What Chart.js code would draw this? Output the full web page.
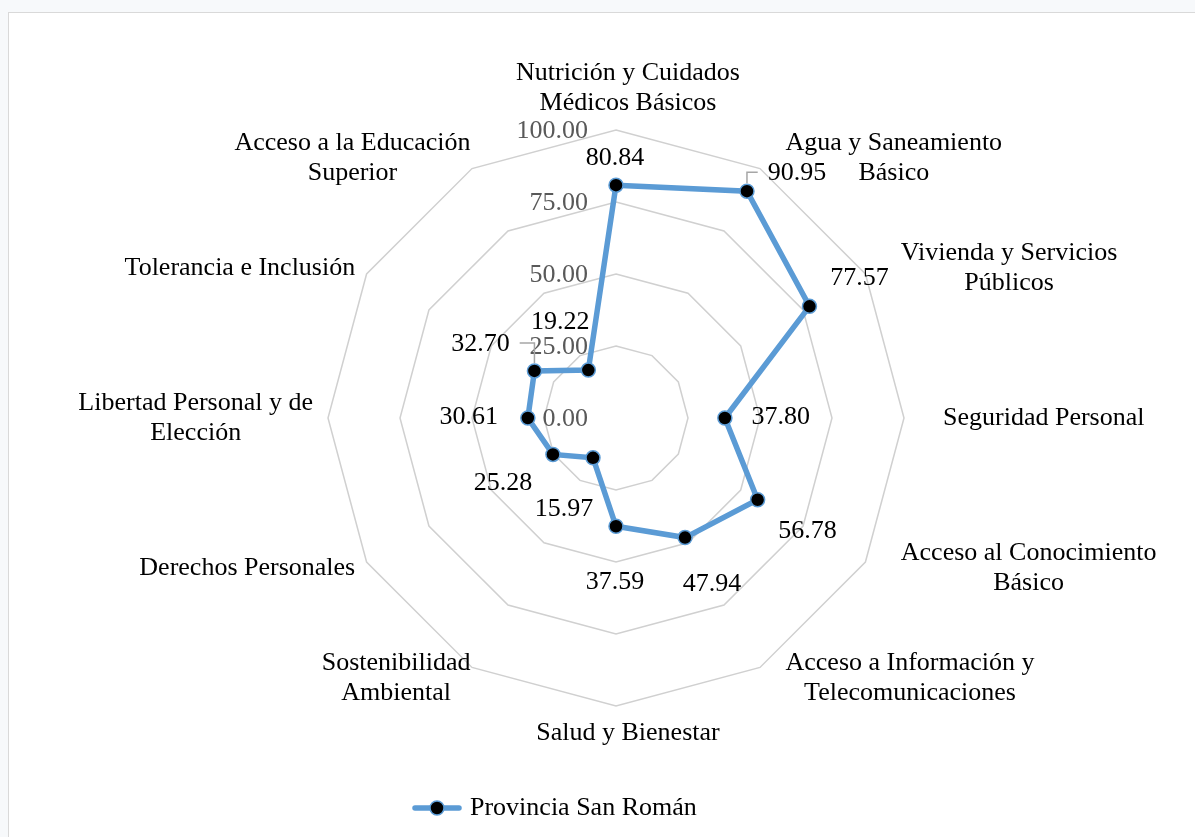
<!DOCTYPE html>
<html>
<head>
<meta charset="utf-8">
<script src="https://cdn.jsdelivr.net/npm/chart.js@4"></script>
<style>
  html, body { margin: 0; padding: 0; background: #f7f9fb; overflow: hidden; }
  #frame { position: absolute; left: 8px; top: 12px; width: 1300px; height: 900px; background: #fff; border-left: 1px solid #d9d9d9; border-top: 1px solid #d9d9d9; }
  #radarChart { position: absolute; left: 0; top: 0; }
</style>
</head>
<body>
<div id="frame"></div>
<canvas id="radarChart" width="1195" height="837"></canvas>
<script>
// categorías (cada una en líneas, como en el gráfico original)
const categories = [
    ['Nutrición y Cuidados', 'Médicos Básicos'],
    ['Agua y Saneamiento', 'Básico'],
    ['Vivienda y Servicios', 'Públicos'],
    ['Seguridad Personal'],
    ['Acceso al Conocimiento', 'Básico'],
    ['Acceso a Información y', 'Telecomunicaciones'],
    ['Salud y Bienestar'],
    ['Sostenibilidad', 'Ambiental'],
    ['Derechos Personales'],
    ['Libertad Personal y de', 'Elección'],
    ['Tolerancia e Inclusión'],
    ['Acceso a la Educación', 'Superior']
];
const seriesName = 'Provincia San Román';
const values = [80.84, 90.95, 77.57, 37.80, 56.78, 47.94, 37.59, 15.97, 25.28, 30.61, 32.70, 19.22];
const tickValues = [0, 25, 50, 75, 100];

// desplazamiento de las etiquetas de datos respecto al punto (px)
const valueLabelOffsets = [[-1, -27], [50, -18], [50, -28], [56, -1], [50, 31], [27, 47],
    [-1, 56], [-29, 51], [-50, 29], [-59, -1], [-54, -27], [-28, -48]];
const leaderLabels = [1, 10];

const FONT = '"Liberation Serif", "Times New Roman", serif';
const BLUE = '#5b9bd5';
Chart.defaults.font.family = FONT;

// icono de la leyenda: línea con marcador
function legendIcon() {
    const c = document.createElement('canvas');
    c.width = 50; c.height = 18;
    const g = c.getContext('2d');
    g.strokeStyle = BLUE; g.lineWidth = 5.5; g.lineCap = 'round';
    g.beginPath(); g.moveTo(3, 9); g.lineTo(47, 9); g.stroke();
    g.beginPath(); g.arc(25, 9, 7, 0, Math.PI * 2);
    g.fillStyle = '#000'; g.fill();
    g.lineWidth = 1.5; g.strokeStyle = BLUE; g.stroke();
    return c;
}

// etiquetas de ejes y valores de la escala
const labelPlugin = {
    id: 'radarLabels',
    beforeDatasetsDraw(chart) {
        const scale = chart.scales.r;
        const ctx = chart.ctx;
        ctx.save();
        ctx.font = '26px ' + FONT;
        ctx.fillStyle = '#595959';
        ctx.textAlign = 'right';
        ctx.textBaseline = 'middle';
        tickValues.forEach(v => {
            const d = scale.getDistanceFromCenterForValue(v);
            ctx.fillText(v.toFixed(2), scale.xCenter - 28, scale.yCenter - d + 1);
        });

        // nombres de categorías
        const R = scale.drawingArea;
        ctx.fillStyle = '#000';
        categories.forEach((lines, i) => {
            const p = scale.getPointPosition(i, R);
            const dx = p.x - scale.xCenter, dy = p.y - scale.yCenter;
            const ax = scale.xCenter + dx * (R + 27) / R + 12;
            const ay = scale.yCenter + dy * (R + 12) / R;
            const w = Math.max(...lines.map(t => ctx.measureText(t).width));
            const h = lines.length * 30;
            let left, top;
            if (Math.abs(dx) < 1) {
                left = ax - w / 2;
                top = dy < 0 ? ay - h : ay;
            } else {
                left = dx > 0 ? ax : ax - w;
                top = ay - h / 2;
            }
            ctx.textAlign = 'center';
            lines.forEach((t, k) => ctx.fillText(t, left + w / 2, top + 15 + k * 30));
        });
        ctx.restore();
    },
    afterDatasetsDraw(chart) {
        const meta = chart.getDatasetMeta(0);
        const ctx = chart.ctx;
        ctx.save();
        ctx.font = '26px ' + FONT;
        ctx.textAlign = 'center';
        ctx.textBaseline = 'middle';
        meta.data.forEach((pt, i) => {
            const [ox, oy] = valueLabelOffsets[i];
            const lx = pt.x + ox, ly = pt.y + oy;
            const txt = values[i].toFixed(2);
            ctx.fillStyle = '#000';
            ctx.fillText(txt, lx, ly);
            if (leaderLabels.includes(i)) {
                const half = ctx.measureText(txt).width / 2;
                const sx = ox > 0 ? lx - half - 10 : lx + half + 10;
                ctx.strokeStyle = '#a6a6a6';
                ctx.lineWidth = 1.5;
                ctx.beginPath();
                ctx.moveTo(sx, ly - 1);
                ctx.lineTo(pt.x, ly - 1);
                ctx.lineTo(pt.x, pt.y - 8);
                ctx.stroke();
            }
        });
        ctx.restore();
    }
};

const ctx = document.getElementById('radarChart').getContext('2d');
new Chart(ctx, {
    type: 'radar',
    data: {
        labels: categories,
        datasets: [{
            label: seriesName,
            data: values,
            borderColor: BLUE,
            borderWidth: 5.5,
            fill: false,
            tension: 0,
            pointRadius: 7,
            pointBackgroundColor: '#000',
            pointBorderColor: BLUE,
            pointBorderWidth: 1.5
        }]
    },
    options: {
        responsive: false,
        animation: false,
        layout: {
            padding: { left: 328, right: 291, top: 130, bottom: 6 }
        },
        scales: {
            r: {
                min: 0,
                max: 100,
                ticks: { display: false, stepSize: 25 },
                pointLabels: { display: false },
                angleLines: { display: false },
                grid: { color: '#d0d0d0', lineWidth: 1.5, circular: false }
            }
        },
        plugins: {
            tooltip: { enabled: false },
            legend: {
                position: 'bottom',
                align: 'start',
                labels: {
                    color: '#000',
                    font: { size: 26, family: FONT },
                    padding: 89,
                    usePointStyle: true,
                    pointStyleWidth: 40,
                    generateLabels(chart) {
                        const items = Chart.defaults.plugins.legend.labels.generateLabels(chart);
                        items.forEach(it => { it.pointStyle = legendIcon(); });
                        return items;
                    }
                }
            }
        }
    },
    plugins: [labelPlugin]
});
</script>
</body>
</html>
